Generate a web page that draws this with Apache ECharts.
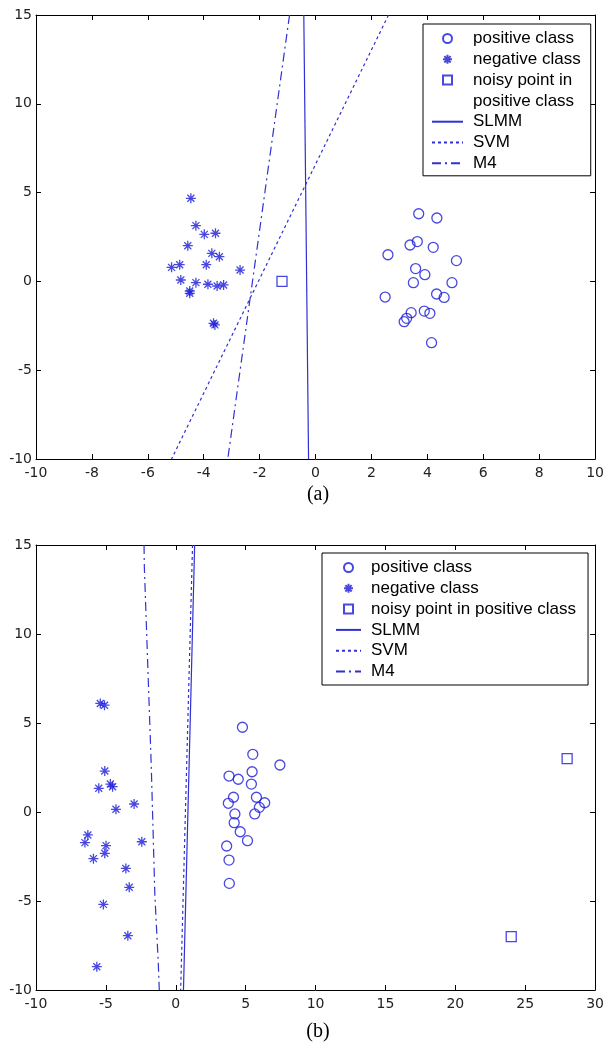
<!DOCTYPE html>
<html>
<head>
<meta charset="utf-8">
<script src="https://cdn.jsdelivr.net/npm/echarts@6/dist/echarts.min.js"></script>
<style>
html,body{margin:0;padding:0;background:#fff;}
#main{width:607px;height:1048px;}
</style>
</head>
<body>
<div id="main"></div>
<script>
// (a) data
var topPositive = [[3.69,3.81],[4.34,3.57],[3.38,2.05],[3.64,2.24],[4.21,1.92],[2.59,1.50],[5.04,1.17],[3.58,0.72],[3.91,0.38],[3.50,-0.07],
	[4.88,-0.07],[2.49,-0.88],[4.33,-0.71],[4.60,-0.90],[3.89,-1.67],[4.09,-1.80],[3.42,-1.76],[3.26,-2.08],[3.17,-2.27],[4.15,-3.45]];
var topNegative = [[-4.46,4.68],[-4.28,3.14],[-3.98,2.65],[-3.58,2.71],[-4.57,2.01],[-3.71,1.58],[-3.44,1.39],[-5.15,0.79],[-4.86,0.94],[-3.91,0.94],
	[-2.70,0.64],[-4.82,0.08],[-4.28,-0.07],[-3.85,-0.16],[-3.52,-0.26],[-3.29,-0.20],[-4.50,-0.54],[-4.50,-0.67],[-3.65,-2.36],[-3.60,-2.45]];
var topNoisy = [[-1.2,0]];
var topSLMM = [[-0.42,15],[-0.25,-10]];
var topSVM = [[2.61,15],[-5.15,-10]];
var topM4 = [[-0.93,15],[-3.14,-10]];
// (b) data
var botPositive = [[4.77,4.76],[5.51,3.24],[7.45,2.64],[5.46,2.26],[3.81,2.02],[4.47,1.84],[5.41,1.57],[4.13,0.83],[3.76,0.49],[5.77,0.83],
	[6.36,0.52],[5.98,0.26],[5.65,-0.11],[4.23,-0.11],[4.18,-0.60],[4.61,-1.11],[5.13,-1.61],[3.64,-1.91],[3.81,-2.70],[3.83,-4.01]];
var botNegative = [[-5.4,6.1],[-5.1,6.0],[-5.08,2.3],[-5.51,1.33],[-4.68,1.57],[-4.52,1.42],[-2.98,0.45],[-4.28,0.15],[-6.29,-1.29],[-6.50,-1.72],
	[-4.99,-1.89],[-5.08,-2.32],[-5.89,-2.62],[-2.43,-1.67],[-3.57,-3.17],[-3.33,-4.23],[-5.18,-5.19],[-3.43,-6.95],[-5.65,-8.69]];
var botNoisy = [[28,3],[24,-7]];
var botSLMM = [[1.35,15],[0.55,-10]];
var botSVM = [[1.2,15],[0.35,-10]];
var botM4 = [[-2.27,15],[-2.25,13.8],[-2.05,9.3],[-1.75,2.5],[-1.5,-4.6],[-1.25,-8.5],[-1.18,-10]];

var markColor = '#1a1ad8';
var lineColor = '#3030d4';
var star = 'path://M5,0L5,10M0,5L10,5M1.5,1.5L8.5,8.5M8.5,1.5L1.5,8.5';
var square = 'path://M0,0L10,0L10,10L0,10Z';

function xAx(grid,min,max,step,pos){
	return {
		type:'value', gridIndex:grid, position:pos, min:min, max:max, interval:step,
		axisLine:{onZero:false,lineStyle:{color:'#000',width:1}},
		axisTick:{inside:true,length:5,lineStyle:{color:'#000'}},
		axisLabel:{show:pos=='bottom',color:'#222',fontFamily:'DejaVu Sans',fontSize:14,margin:7},
		splitLine:{show:false}
	};
};
function yAx(grid,pos){
	return {
		type:'value', gridIndex:grid, position:pos, min:-10, max:15, interval:5,
		axisLine:{onZero:false,lineStyle:{color:'#000',width:1}},
		axisTick:{inside:true,length:5,lineStyle:{color:'#000'}},
		axisLabel:{show:pos=='left',color:'#222',fontFamily:'DejaVu Sans',fontSize:14,margin:4},
		splitLine:{show:false}
	};
};
function pts(name,data,ax,sym){
	var s = {name:name,type:'scatter',xAxisIndex:ax,yAxisIndex:ax,data:data,symbolSize:10,symbolKeepAspect:true,
		itemStyle:{color:'rgba(0,0,0,0)',borderColor:markColor,borderWidth:1.3}};
	if(sym == 'star'){s.symbol = star;s.itemStyle.color = markColor;}
	else s.symbol = sym;
	return s;
};
function line(name,data,ax,dash){
	return {name:name,type:'line',xAxisIndex:ax,yAxisIndex:ax,data:data,symbol:'none',showSymbol:false,
		lineStyle:{color:lineColor,width:1.2,type:dash},itemStyle:{color:'rgba(0,0,0,0)',opacity:0}};
};
function lineItem(name){
	return {name:name,itemStyle:{opacity:0}};
};
function legend(names,left,top,pad,w){
	return {
		data:names, left:left, top:top, orient:'vertical', selectedMode:false,
		itemWidth:w, itemHeight:9, itemGap:3.8, padding:pad,
		borderColor:'#000', borderWidth:1, backgroundColor:'#fff',
		textStyle:{color:'#000',fontFamily:'Liberation Sans',fontSize:17,lineHeight:17,padding:[0,0,0,5]}
	};
};

var chart = echarts.init(document.getElementById('main'));
var option = {
	animation:false,
	grid:[
		{left:36,top:15,width:564,height:444},
		{left:36,top:545,width:564,height:445}
	],
	xAxis:[xAx(0,-10,10,2,'bottom'),xAx(0,-10,10,2,'top'),xAx(1,-10,30,5,'bottom'),xAx(1,-10,30,5,'top')],
	yAxis:[yAx(0,'left'),yAx(0,'right'),yAx(1,'left'),yAx(1,'right')],
	legend:[
		legend(['positive class','negative class','noisy point in',
			{name:'positive class ',itemStyle:{opacity:0}},lineItem('SLMM'),lineItem('SVM'),lineItem('M4')],423,24,[6,10,4,8],31),
		legend(['positive class','negative class','noisy point in positive class',lineItem('SLMM'),lineItem('SVM'),lineItem('M4')],322,553,[6,12,5,13],25)
	],
	graphic:[
		{type:'text',x:318,y:495,style:{text:'(a)',font:'20px "Liberation Serif"',fill:'#000',textAlign:'center',textVerticalAlign:'middle'}},
		{type:'text',x:318,y:1032,style:{text:'(b)',font:'20px "Liberation Serif"',fill:'#000',textAlign:'center',textVerticalAlign:'middle'}}
	],
	series:[
		line('SLMM',topSLMM,0,'solid'),
		line('SVM',topSVM,0,[3,3]),
		line('M4',topM4,0,[9,4,2,4]),
		pts('positive class',topPositive,0,'circle'),
		pts('negative class',topNegative,0,'star'),
		pts('noisy point in',topNoisy,0,square),
		{name:'positive class ',type:'scatter',xAxisIndex:0,yAxisIndex:0,data:[],symbol:'rect',
			itemStyle:{color:'rgba(0,0,0,0)',borderColor:'rgba(0,0,0,0)'}},
		line('SLMM',botSLMM,2,'solid'),
		line('SVM',botSVM,2,[3,3]),
		line('M4',botM4,2,[9,4,2,4]),
		pts('positive class',botPositive,2,'circle'),
		pts('negative class',botNegative,2,'star'),
		pts('noisy point in positive class',botNoisy,2,square)
	]
};
chart.setOption(option);
</script>
</body>
</html>
